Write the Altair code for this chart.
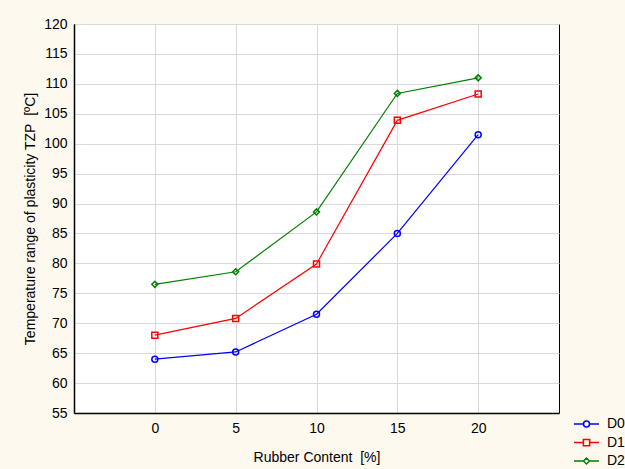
import altair as alt
import pandas as pd

rubber = [0, 5, 10, 15, 20]
series_names = ["D0", "D1", "D2"]
d0 = [64.0, 65.2, 71.5, 85.0, 101.5]
d1 = [68.0, 70.8, 79.9, 103.9, 108.3]
d2 = [76.5, 78.6, 88.6, 108.4, 111.0]
colors = ["#0000FF", "#FF0000", "#008000"]

rows = []
for name, vals in zip(series_names, [d0, d1, d2]):
    for x, y in zip(rubber, vals):
        rows.append({"rubber": x, "tzp": y, "series": name, "series_leg": name})
df = pd.DataFrame(rows)

FONT = "Liberation Sans"
FS = 14

marker_paths = [
    "M-1,0A1,1 0 1,0 1,0A1,1 0 1,0 -1,0",
    "M-1,-1H1V1H-1Z",
    "M-1,0L0,-1L1,0L0,1Z",
]
legend_paths = [
    "M-1,0H-0.24M0.24,0H1M-0.24,0A0.24,0.24 0 1,0 0.24,0A0.24,0.24 0 1,0 -0.24,0",
    "M-1,0H-0.25M0.25,0H1M-0.25,-0.25H0.25V0.25H-0.25Z",
    "M-1,0H-0.24M0.24,0H1M-0.24,0L0,-0.24L0.24,0L0,0.24Z",
]

x_enc = alt.X(
    "rubber:Q",
    scale=alt.Scale(domain=[-5, 25], nice=False, zero=False),
    axis=alt.Axis(
        values=rubber,
        title="Rubber Content\u00a0 [%]",
        ticks=False,
        tickSize=0,
        labelPadding=8,
        titleX=242.5,
        titleY=44,
        titleBaseline="middle",
        titleAlign="center",
    ),
)
y_enc = alt.Y(
    "tzp:Q",
    scale=alt.Scale(domain=[55, 120], nice=False, zero=False),
    axis=alt.Axis(
        values=list(range(55, 121, 5)),
        title="Temperature range of plasticity TZP\u00a0 [ºC]",
        ticks=False,
        tickSize=0,
        labelPadding=7,
        titleX=-44,
        titleY=194.5,
        titleAngle=-90,
        titleBaseline="middle",
        titleAlign="center",
    ),
)

color_scale = alt.Scale(domain=series_names, range=colors)

lines = alt.Chart(df).mark_line(strokeWidth=1.2).encode(
    x=x_enc,
    y=y_enc,
    color=alt.Color("series:N", scale=color_scale, legend=None),
)

points = alt.Chart(df).mark_point(filled=False, size=36, strokeWidth=1.5, opacity=1).encode(
    x=x_enc,
    y=y_enc,
    color=alt.Color("series:N", scale=color_scale, legend=None),
    shape=alt.Shape("series:N", scale=alt.Scale(domain=series_names, range=marker_paths), legend=None),
)

leg = dict(
    title=None,
    orient="none",
    legendX=499,
    legendY=392,
    padding=0,
    labelOffset=7,
    labelFontSize=FS,
    labelFont=FONT,
    labelColor="#000000",
    clipHeight=16,
    rowPadding=2.5,
    symbolSize=625,
    symbolStrokeWidth=1.5,
    symbolOpacity=1,
)

legend_layer = alt.Chart(df).mark_point(filled=False, size=36, opacity=0).encode(
    x=x_enc,
    y=y_enc,
    color=alt.Color(
        "series_leg:N",
        scale=alt.Scale(domain=series_names, range=colors),
        legend=alt.Legend(**leg),
    ),
    shape=alt.Shape(
        "series_leg:N",
        scale=alt.Scale(domain=series_names, range=legend_paths),
        legend=alt.Legend(**leg),
    ),
)

chart = (
    alt.layer(lines, points, legend_layer)
    .resolve_scale(color="independent", shape="independent")
    .properties(
        width=485,
        height=389,
        padding={"left": 74, "top": 24, "right": 66, "bottom": 56},
        autosize=alt.AutoSizeParams(type="none"),
        background="#FEF9EE",
    )
    .configure_view(stroke="#000000", strokeWidth=1, fill="#FFFFFF")
    .configure_axis(
        labelFont=FONT,
        titleFont=FONT,
        labelFontSize=FS,
        titleFontSize=FS,
        labelColor="#000000",
        titleColor="#000000",
        titleFontWeight="normal",
        domainColor="#000000",
        domainWidth=1.5,
        gridColor="#D9D9D9",
        gridWidth=1,
    )
)

chart.save("out.html", embed_options={"renderer": "svg", "actions": False})
